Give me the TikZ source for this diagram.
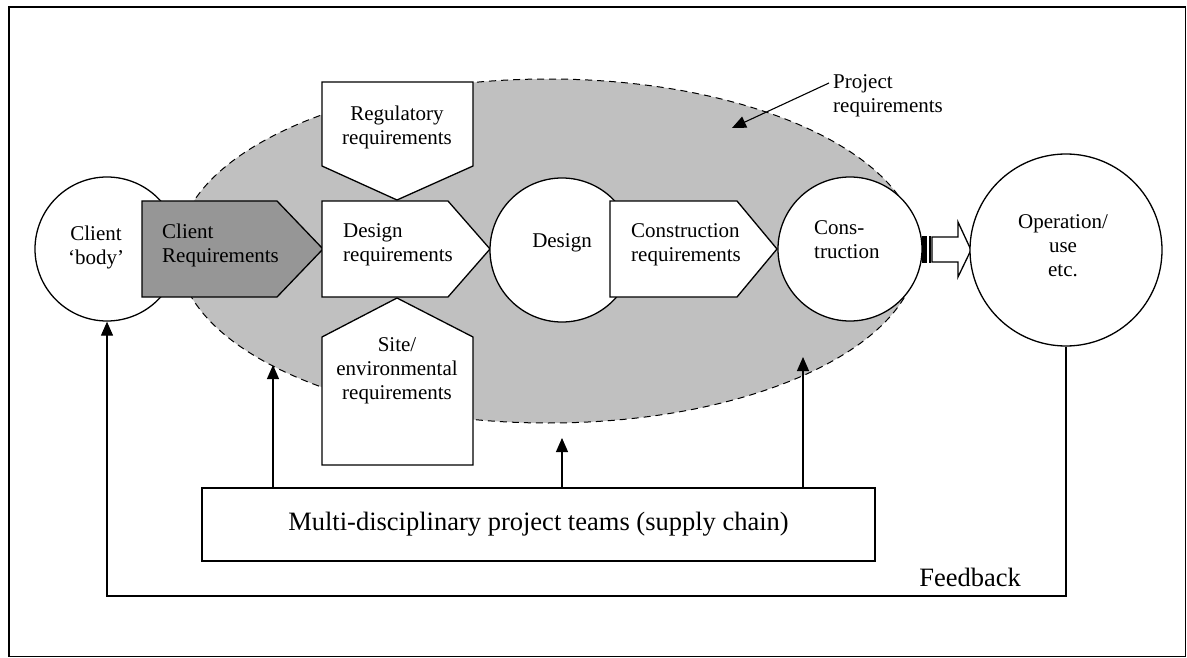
\documentclass[tikz,border=0pt]{standalone}
\usepackage{fontspec}
\setmainfont{Liberation Serif}
\usetikzlibrary{arrows.meta}
\usetikzlibrary{shapes.geometric}
\tikzset{>={Triangle[length=14pt,width=12pt]}}
\definecolor{projgray}{RGB}{192,192,192}
\definecolor{clientgray}{RGB}{150,150,150}
\tikzset{
  stage/.style={draw, circle, fill=white, line width=1.3pt, minimum size=144pt, inner sep=0pt},
  reqbox/.style={draw, fill=white, line width=1.3pt, line join=miter},
  txt/.style={inner sep=0pt, font=\fontsize{21}{24}\selectfont},
  bigtxt/.style={inner sep=0pt, font=\fontsize{26.5}{30}\selectfont},
  feed/.style={line width=1.1pt},
}

\begin{document}
\begin{tikzpicture}[x=1pt,y=-1pt]
  \useasboundingbox (0,0) rectangle (1187,658);
  \draw[line width=1.4pt] (9,7) rectangle (1185.5,656.5);

  % project requirements
  \node[ellipse, draw, fill=projgray, dash pattern=on 7pt off 5pt, line width=1pt,
        minimum width=740pt, minimum height=344pt, inner sep=0pt] (proj) at (548,251) {};

  \node[stage] (client) at (107,249) {};
  \draw[reqbox, fill=clientgray] (142,201) -- (277,201) -- (323,249) -- (277,297) -- (142,297) -- cycle;
  \draw[reqbox] (322,82) -- (473,82) -- (473,166) -- (397,200) -- (322,166) -- cycle;
  \draw[reqbox] (397,298) -- (473,337) -- (473,465) -- (322,465) -- (322,337) -- cycle;
  \draw[reqbox] (322,201) -- (448,201) -- (490,249) -- (448,297) -- (322,297) -- cycle;
  \node[stage] (design) at (562,250) {};
  \draw[reqbox] (610,201) -- (737,201) -- (777,249) -- (737,297) -- (610,297) -- cycle;
  \node[stage] (constr) at (850,249) {};

  % striped arrow
  \fill (922,236) rectangle (927,263);
  \fill (929,236) rectangle (931,263);
  \draw[reqbox] (932,237) -- (958,237) -- (958,222) -- (971,250) -- (958,277) -- (958,262) -- (932,262) -- cycle;
  \node[stage, minimum size=192pt] (op) at (1066,250) {};

  % labels
  \node[txt, align=center] (clientlbl) at (96,247) {Client\\‘body’};
  \node[txt, align=left, anchor=west] (clientreq) at (162,245) {Client\\Requirements};
  \node[txt, align=center] (reglbl) at (397,127) {Regulatory\\requirements};
  \node[txt, align=left, anchor=west] (desreq) at (343,245) {Design\\requirements};
  \node[txt, align=center] (sitelbl) at (397,371) {Site/\\environmental\\requirements};
  \node[txt] (deslbl) at (562,243) {Design};
  \node[txt, align=left, anchor=west] (conreq) at (631,245) {Construction\\requirements};
  \node[txt, align=left, anchor=west] (conlbl) at (814,240) {Cons-\\truction};
  \node[txt, align=center] (oplbl) at (1063,246) {Operation/\\use\\etc.};
  \node[txt, align=left, anchor=west] (projlbl) at (833,96) {Project\\requirements};

  \coordinate (projtip) at (732,128);
  \draw[feed, ->] (projlbl.west) ++(-4,-13) -- (projtip);

  % teams
  \node[draw, line width=1.2pt, minimum width=673pt, minimum height=73pt,
        bigtxt, inner sep=0pt] (teams) at (538.5,524.5) {Multi-disciplinary project teams (supply chain)};
  \coordinate (t1) at (273,365);
  \coordinate (t2) at (562,438);
  \coordinate (t3) at (803,357);
  \draw[feed, ->] (teams.north -| t1) -- (t1);
  \draw[feed, ->] (teams.north -| t2) -- (t2);
  \draw[feed, ->] (teams.north -| t3) -- (t3);

  % feedback
  \coordinate (fb) at (0,596);
  \draw[feed, ->] (op.south) -- (op.south |- fb) -| (client.south);
  \node[bigtxt, anchor=base east] (fblbl) at (1021,586) {Feedback};
\end{tikzpicture}
\end{document}
